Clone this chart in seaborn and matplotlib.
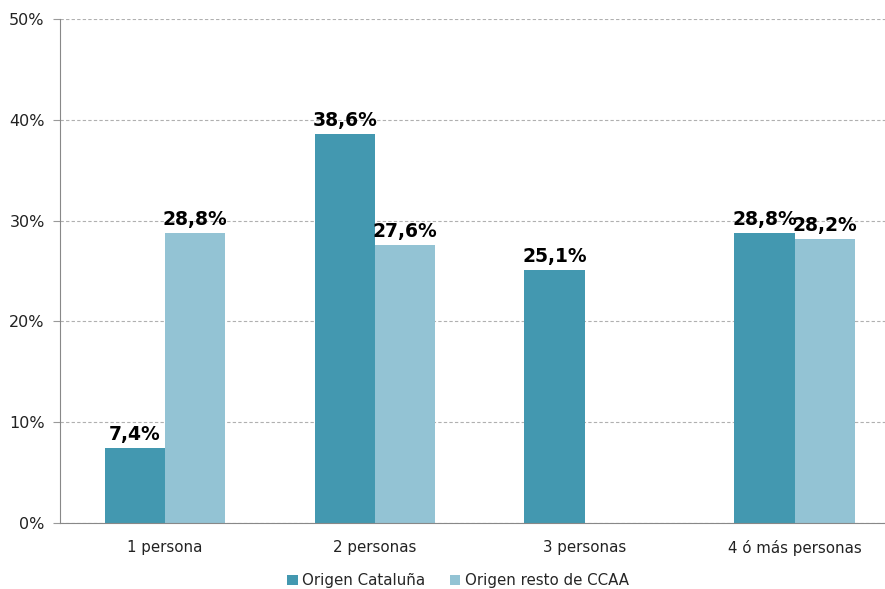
import numpy as np
import pandas as pd
import seaborn as sns
import matplotlib.pyplot as plt

categorias = ["1 persona", "2 personas", "3 personas", "4 ó más personas"]
series = ["Origen Cataluña", "Origen resto de CCAA"]
cataluna = [7.4, 38.6, 25.1, 28.8]
resto_ccaa = [28.8, 27.6, np.nan, 28.2]
colores = ["#4398B0", "#93C3D4"]

df = pd.DataFrame({
    "categoria": categorias * 2,
    "serie": [series[0]] * 4 + [series[1]] * 4,
    "valor": cataluna + resto_ccaa,
})

sns.set_style("white")
plt.rcParams["font.family"] = ["DejaVu Sans"]

fig = plt.figure(figsize=(8.85, 5.89), dpi=100)
ax = fig.add_axes([60 / 885, 66 / 589, 825 / 885, 504 / 589])

sns.barplot(data=df, x="categoria", y="valor", hue="serie", palette=colores,
            width=0.575, saturation=1, linewidth=0, ax=ax, legend=True)

for cont in ax.containers:
    labels = ["" if np.isnan(v) else f"{v:.1f}%".replace(".", ",") for v in cont.datavalues]
    ax.bar_label(cont, labels=labels, padding=3, fontsize=13.5, fontweight="bold", color="black")

ax.set_ylim(0, 50)
ax.set_xlim(-0.5, 3.43)
ax.set_yticks(range(0, 51, 10))
ax.set_yticklabels([f"{t}%" for t in range(0, 51, 10)], fontsize=11.5, color="#222222")
ax.tick_params(axis="x", labelsize=10.8, colors="#222222", length=0, pad=12)
ax.tick_params(axis="y", length=5, width=0.8, color="#999999", pad=6, direction="out", left=True)
ax.set_xlabel("")
ax.set_ylabel("")
ax.yaxis.grid(True, linestyle=(0, (3, 2)), color="#b0b0b0", linewidth=0.8)
ax.set_axisbelow(True)
for s in ["top", "right"]:
    ax.spines[s].set_visible(False)
ax.spines["left"].set_color("#888888")
ax.spines["bottom"].set_color("#888888")

ax.legend(loc="upper center", bbox_to_anchor=(398 / 825, -0.082), ncol=2, frameon=False,
          fontsize=10.8, handlelength=0.7, handleheight=0.7, handletextpad=0.3,
          columnspacing=1.6, borderpad=0.1)

fig.savefig("out.png", dpi=100)
